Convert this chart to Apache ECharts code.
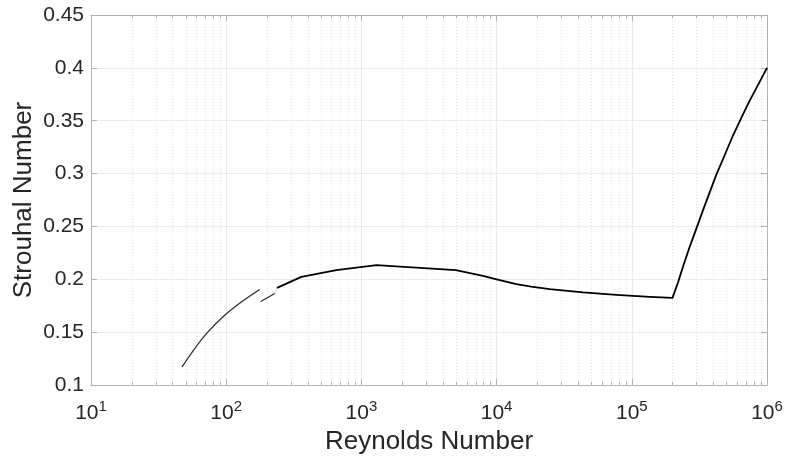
<!DOCTYPE html>
<html>
<head>
<meta charset="utf-8">
<script src="https://cdn.jsdelivr.net/npm/echarts@6/dist/echarts.min.js"></script>
<style>
  html, body { margin: 0; padding: 0; background: #fff; }
  #chart { width: 788px; height: 460px; }
</style>
</head>
<body>
<div id="chart"></div>
<script>
// Strouhal number vs Reynolds number for flow past a circular cylinder

// Laminar shedding branch
const reLaminar = [47.1, 58.5, 73.3, 97.4, 129.4, 177];
const stLaminar = [0.1171, 0.1345, 0.1502, 0.1660, 0.1786, 0.1904];

// Transition branch
const reTransition = [180, 228.6];
const stTransition = [0.179, 0.1866];

// Short join between transition and main curve
const reJoin = [228.6, 237.6];
const stJoin = [0.1866, 0.1919];

// Main curve up to the drag crisis and beyond
const reMain = [237.6, 359.5, 653, 1291, 5000, 7920, 10000, 14000, 18000, 24700, 43600, 76900,
                135600, 200000, 220000, 239000, 268000, 284000, 337000, 422000, 473000,
                560000, 664000, 745000, 857000, 1000000];
const stMain = [0.1919, 0.2023, 0.2087, 0.2134, 0.2087, 0.2033, 0.2000, 0.1954, 0.1930, 0.1907, 0.1876, 0.1853,
                0.1834, 0.1824, 0.1972, 0.2118, 0.2308, 0.2394, 0.2657, 0.2990, 0.3138,
                0.3360, 0.3559, 0.3690, 0.3836, 0.4];

// Axis ticks
const xMajorTicks = [10, 100, 1000, 10000, 100000, 1000000];
const xMinorTicks = [];
for (let d = 1; d < 6; d++) {
  for (let k = 2; k <= 9; k++) xMinorTicks.push(k * Math.pow(10, d));
}
const yTicks = [0.1, 0.15, 0.2, 0.25, 0.3, 0.35, 0.4, 0.45];

const pairs = (xs, ys) => xs.map((x, i) => [x, ys[i]]);

const FONT = 'Liberation Sans, Arial, Helvetica, sans-serif';
const AXIS_COLOR = '#b3b3b3';
const TEXT_COLOR = '#262626';
const GRID_COLOR = '#ebebeb';
const Y_MIN = yTicks[0], Y_MAX = yTicks[yTicks.length - 1];

const chart = echarts.init(document.getElementById('chart'), null, { renderer: 'canvas' });

const xCommon = {
  type: 'log',
  logBase: 10,
  min: xMajorTicks[0],
  max: xMajorTicks[xMajorTicks.length - 1],
  axisLine: { show: true, lineStyle: { color: AXIS_COLOR, width: 1 } },
  axisTick: { show: true, inside: true, length: 6, lineStyle: { color: AXIS_COLOR } },
  minorTick: { show: false },
  splitLine: { show: false }
};

const yCommon = {
  type: 'value',
  min: Y_MIN,
  max: Y_MAX,
  interval: 0.05,
  axisLine: { show: true, lineStyle: { color: AXIS_COLOR, width: 1 } },
  axisTick: { show: true, inside: true, length: 6, lineStyle: { color: AXIS_COLOR } },
  splitLine: { show: false }
};

const option = {
  animation: false,
  backgroundColor: '#fff',
  grid: { left: 91, right: 21, top: 15, bottom: 75, containLabel: false, outerBoundsMode: 'none' },
  xAxis: [
    Object.assign({}, xCommon, {
      position: 'bottom',
      name: 'Reynolds Number',
      nameLocation: 'middle',
      nameGap: 44,
      nameMoveOverlap: false,
      nameTextStyle: { fontFamily: FONT, fontSize: 26, color: TEXT_COLOR },
      splitLine: { show: true, lineStyle: { color: GRID_COLOR, width: 1 } },
      axisLabel: {
        margin: 18,
        formatter: v => '{b|10}{s|' + Math.round(Math.log10(v)) + '}',
        rich: {
          b: { fontFamily: FONT, fontSize: 21, color: TEXT_COLOR, lineHeight: 21 },
          s: { fontFamily: FONT, fontSize: 15, color: TEXT_COLOR, lineHeight: 15, padding: [0, 0, 13, 0] }
        }
      }
    }),
    Object.assign({}, xCommon, { position: 'top', axisLabel: { show: false } })
  ],
  yAxis: [
    Object.assign({}, yCommon, {
      position: 'left',
      name: 'Strouhal Number',
      nameLocation: 'middle',
      nameGap: 54,
      nameMoveOverlap: false,
      nameTextStyle: { fontFamily: FONT, fontSize: 26, color: TEXT_COLOR },
      splitLine: { show: true, lineStyle: { color: GRID_COLOR, width: 1 } },
      axisLabel: {
        margin: 7,
        fontFamily: FONT, fontSize: 21, color: TEXT_COLOR,
        formatter: v => String(parseFloat(v.toFixed(2)))
      }
    }),
    Object.assign({}, yCommon, { position: 'right', axisLabel: { show: false } })
  ],
  series: [
    {
      // dotted minor grid lines with small inward ticks on both horizontal edges
      type: 'custom',
      xAxisIndex: 0, yAxisIndex: 0,
      silent: true,
      z: 1,
      data: xMinorTicks.map(v => [v, Y_MIN]),
      encode: { x: 0, y: 1 },
      renderItem: (params, api) => {
        const v = api.value(0);
        const pb = api.coord([v, Y_MIN]);
        const pt = api.coord([v, Y_MAX]);
        const x = Math.round(pb[0]) + 0.5;
        return {
          type: 'group',
          children: [
            { type: 'line', shape: { x1: x, y1: pt[1], x2: x, y2: pb[1] },
              style: { stroke: '#e3e3e3', lineWidth: 1, lineDash: [1, 2] } },
            { type: 'line', shape: { x1: x, y1: pb[1], x2: x, y2: pb[1] - 3 },
              style: { stroke: AXIS_COLOR, lineWidth: 1 } },
            { type: 'line', shape: { x1: x, y1: pt[1], x2: x, y2: pt[1] + 3 },
              style: { stroke: AXIS_COLOR, lineWidth: 1 } }
          ]
        };
      }
    },
    {
      type: 'line', name: 'laminar',
      data: pairs(reLaminar, stLaminar),
      smooth: 0.3, showSymbol: false, z: 5,
      lineStyle: { color: '#2a2a2a', width: 1.2 }
    },
    {
      type: 'line', name: 'transition',
      data: pairs(reTransition, stTransition),
      showSymbol: false, z: 5,
      lineStyle: { color: '#2a2a2a', width: 1.2 }
    },
    {
      type: 'line', name: 'join',
      data: pairs(reJoin, stJoin),
      showSymbol: false, z: 4,
      lineStyle: { color: '#a8dcef', width: 1 }
    },
    {
      type: 'line', name: 'main',
      data: pairs(reMain, stMain),
      showSymbol: false, z: 6,
      lineStyle: { color: '#000', width: 1.8, join: 'round' }
    }
  ]
};

chart.setOption(option);
</script>
</body>
</html>
